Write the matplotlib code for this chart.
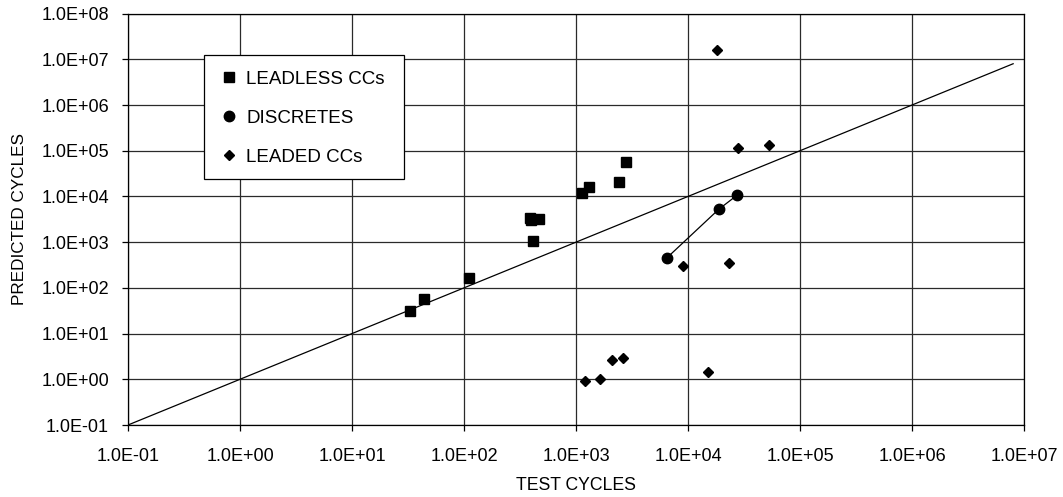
import matplotlib
matplotlib.use("Agg")
import matplotlib.pyplot as plt
from matplotlib.patches import Rectangle

plt.rcParams['font.family'] = ['Liberation Sans', 'DejaVu Sans']

# Data
leadless_x = [33, 44, 110, 385, 395, 464, 413, 1120, 1306, 2400, 2810]
leadless_y = [31.6, 56, 162, 3350, 3050, 3230, 1070, 11700, 16100, 20600, 55700]

discretes_x = [6494, 18800, 27500]
discretes_y = [456, 5220, 10700]

leaded_x = [9080, 23200, 1210, 1637, 2080, 2630, 14960, 18150, 27700, 53200]
leaded_y = [295, 344, 0.90, 0.995, 2.6, 2.86, 1.42, 1.62e7, 1.16e5, 1.31e5]

ref_x = [0.1, 8.0e6]
ref_y = [0.1, 8.0e6]

xticks = [1e-1, 1e0, 1e1, 1e2, 1e3, 1e4, 1e5, 1e6, 1e7]
xtick_labels = ["1.0E-01", "1.0E+00", "1.0E+01", "1.0E+02", "1.0E+03",
                "1.0E+04", "1.0E+05", "1.0E+06", "1.0E+07"]
yticks = [1e-1, 1e0, 1e1, 1e2, 1e3, 1e4, 1e5, 1e6, 1e7, 1e8]
ytick_labels = ["1.0E-01", "1.0E+00", "1.0E+01", "1.0E+02", "1.0E+03",
                "1.0E+04", "1.0E+05", "1.0E+06", "1.0E+07", "1.0E+08"]

W, H = 1063, 497
AX_L, AX_R, AX_T, AX_B = 128, 1024, 13.6, 425

fig = plt.figure(figsize=(W/100, H/100), dpi=100)
ax = fig.add_axes([AX_L/W, 1 - AX_B/H, (AX_R-AX_L)/W, (AX_B-AX_T)/H])

ax.set_xscale('log')
ax.set_yscale('log')
ax.set_xlim(1e-1, 1e7)
ax.set_ylim(1e-1, 1e8)

ax.grid(True, which='major', color='#2a2a2a', linewidth=0.9)
ax.minorticks_off()
ax.set_axisbelow(True)

ax.plot(ref_x, ref_y, color='black', linewidth=0.9, zorder=3)
ax.plot(discretes_x, discretes_y, color='black', linewidth=0.9, zorder=3)

ax.plot(leadless_x, leadless_y, linestyle='none', marker='s', markersize=7.5,
        color='black', label='LEADLESS CCs', zorder=4)
ax.plot(discretes_x, discretes_y, linestyle='none', marker='o', markersize=7.5,
        color='black', label='DISCRETES', zorder=4)
ax.plot(leaded_x, leaded_y, linestyle='none', marker='D', markersize=5.5,
        color='black', label='LEADED CCs', zorder=4)

ax.set_xticks(xticks)
ax.set_xticklabels(xtick_labels)
ax.set_yticks(yticks)
ax.set_yticklabels(ytick_labels)
ax.tick_params(axis='both', direction='out', length=4.3, width=0.9,
               labelsize=13, colors='black')
ax.tick_params(axis='y', pad=9.4)
ax.tick_params(axis='x', pad=12.3)

for s in ax.spines.values():
    s.set_color('black')
    s.set_linewidth(0.9)

ax.set_xlabel('TEST CYCLES', fontsize=12.7, labelpad=8.5)
ax.set_ylabel('PREDICTED CYCLES', fontsize=12.3, labelpad=10.5)

# legend box
AXW, AXH = AX_R - AX_L, AX_B - AX_T
lx0, lx1, ly0, ly1 = 204, 404, 54.7, 179.3
box = Rectangle(((lx0-AX_L)/AXW, (AX_B-ly1)/AXH), (lx1-lx0)/AXW, (ly1-ly0)/AXH,
                transform=ax.transAxes, facecolor='white', edgecolor='black',
                linewidth=0.9, zorder=5)
ax.add_patch(box)

leg = ax.legend(loc='upper left', bbox_to_anchor=((lx0-AX_L)/AXW, (AX_B-ly0-3)/AXH),
                borderaxespad=0, frameon=False,
                fontsize=13.5, handlelength=1.27, handletextpad=0.27,
                labelspacing=1.16, borderpad=0.7, markerscale=1.0)
leg.set_zorder(6)

fig.savefig('out.png', dpi=100)
